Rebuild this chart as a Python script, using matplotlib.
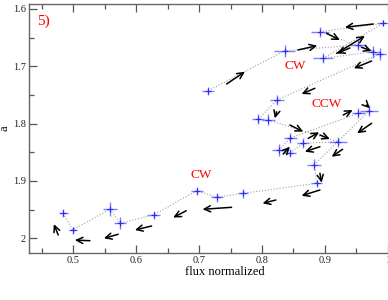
import matplotlib
matplotlib.use("Agg")
import matplotlib.pyplot as plt
from matplotlib.ticker import MultipleLocator, FuncFormatter

plt.rcParams['font.family'] = ['Liberation Serif', 'DejaVu Serif']

# data (time-ordered path)
flux = [0.7145, 0.8364, 0.9529, 0.9768, 0.8973, 0.9927, 0.8921, 0.9874,
        0.8237, 0.7940, 0.8099, 0.9211, 0.8655, 0.8444, 0.8269, 0.8452,
        0.9529, 0.9704, 0.8833, 0.8868, 0.7702, 0.7279, 0.6961, 0.6283,
        0.5750, 0.5583, 0.4990, 0.4841]
alpha = [1.7425, 1.6727, 1.6628, 1.6745, 1.6860, 1.6249, 1.6396, 1.6785,
         1.7587, 1.7924, 1.7936, 1.8315, 1.8343, 1.8507, 1.8460, 1.8250,
         1.7819, 1.7774, 1.8713, 1.9041, 1.9215, 1.9285, 1.9170, 1.9588,
         1.9738, 1.9494, 1.9855, 1.9564]
flux_err = [0.0095, 0.0167, 0.0127, 0.0103, 0.0159, 0.0095, 0.0143, 0.0095,
            0.0111, 0.0095, 0.0103, 0.0143, 0.0095, 0.0095, 0.0111, 0.0103,
            0.0103, 0.0143, 0.0111, 0.0087, 0.0079, 0.0095, 0.0095, 0.0103,
            0.0095, 0.0111, 0.0064, 0.0072]
alpha_err = [0.0070, 0.0105, 0.0087, 0.0105, 0.0087, 0.0052, 0.0087, 0.0105,
             0.0087, 0.0087, 0.0096, 0.0087, 0.0087, 0.0070, 0.0105, 0.0087,
             0.0087, 0.0096, 0.0096, 0.0061, 0.0079, 0.0079, 0.0070, 0.0070,
             0.0105, 0.0122, 0.0061, 0.0070]

# direction arrows (tail -> head)
arr_x0 = [0.7438, 0.8571, 0.9768, 0.9027, 0.9186, 0.9397, 0.9583, 0.9742,
          0.8841, 0.8232, 0.8444, 0.8735, 0.8921, 0.8921, 0.8337, 0.9291,
          0.9663, 0.9742, 0.9281, 0.8921, 0.8921, 0.8221, 0.7517, 0.6796,
          0.6246, 0.5715, 0.5265, 0.4762]
arr_y0 = [1.7308, 1.6715, 1.6262, 1.6424, 1.6773, 1.6680, 1.6668, 1.6907,
          1.7383, 1.7792, 1.8024, 1.8256, 1.8198, 1.8402, 1.8529, 1.7849,
          1.7675, 1.7994, 1.8447, 1.8866, 1.9157, 1.9332, 1.9459, 1.9519,
          1.9785, 1.9930, 2.0042, 1.9942]
arr_x1 = [0.7729, 0.8878, 0.9318, 0.9238, 0.9636, 0.9191, 0.9742, 0.9461,
          0.8630, 0.8205, 0.8655, 0.8909, 0.9079, 0.8682, 0.8444, 0.9440,
          0.9715, 0.9513, 0.9107, 0.8948, 0.8630, 0.8010, 0.7056, 0.6589,
          0.5981, 0.5488, 0.5027, 0.4693]
arr_y1 = [1.7094, 1.6640, 1.6319, 1.6541, 1.6471, 1.6776, 1.6733, 1.7034,
          1.7483, 1.7907, 1.8140, 1.8151, 1.8268, 1.8489, 1.8402, 1.7762,
          1.7732, 1.8168, 1.8577, 1.9030, 1.9257, 1.9389, 1.9494, 1.9637,
          1.9855, 2.0000, 2.0030, 1.9751]

labels_text = ["5)", "CW", "CCW", "CW"]
labels_x = [0.4526, 0.8524, 0.9027, 0.7030]
labels_y = [1.6210, 1.6986, 1.7658, 1.8900]
labels_size = [11, 9.5, 9.5, 9.5]

fig = plt.figure(figsize=(3.88, 3.00), dpi=100)
ax = fig.add_axes([28.5 / 388, 47 / 300, 393 / 388, 249 / 300])

ax.plot(flux, alpha, linestyle=':', color='#a0a0a0', lw=0.8, zorder=1)
ax.errorbar(flux, alpha, xerr=flux_err, yerr=alpha_err, fmt='none',
            ecolor='#7f7fff', elinewidth=1.0, capsize=0, zorder=2)
ax.plot(flux, alpha, linestyle='none', marker='+', color='#2a2aff',
        markersize=5, mew=0.8, zorder=3)

for x0, y0, x1, y1 in zip(arr_x0, arr_y0, arr_x1, arr_y1):
    ax.annotate('', xy=(x1, y1), xytext=(x0, y0),
                arrowprops=dict(arrowstyle='->,head_length=0.45,head_width=0.22',
                                color='black', lw=1.1, shrinkA=0, shrinkB=0),
                zorder=4)

for t, x, y, s in zip(labels_text, labels_x, labels_y, labels_size):
    ax.text(x, y, t, color='red', fontsize=s, ha='center', va='center')

ax.set_xlim(0.429, 1.0535)
ax.set_ylim(2.0256, 1.5913)

ax.xaxis.set_major_locator(MultipleLocator(0.1))
ax.xaxis.set_minor_locator(MultipleLocator(0.05))
ax.yaxis.set_major_locator(MultipleLocator(0.1))
ax.yaxis.set_minor_locator(MultipleLocator(0.05))
fmt = FuncFormatter(lambda v, p: '%g' % round(v, 3))
ax.xaxis.set_major_formatter(fmt)
ax.yaxis.set_major_formatter(fmt)

ax.tick_params(which='both', direction='in', top=True, right=True,
               labelsize=7.5, colors='#555555', labelcolor='#222222', pad=2)
ax.tick_params(which='major', length=6, width=0.9)
ax.tick_params(which='minor', length=3.5, width=0.9)
for s in ax.spines.values():
    s.set_color('#666666')
    s.set_linewidth(1.0)

ax.set_xlabel('flux normalized', fontsize=9, labelpad=1)
ax.set_ylabel('a', fontsize=9)
ax.yaxis.set_label_coords(-0.045, 0.5)

fig.savefig('out.png', dpi=100)
